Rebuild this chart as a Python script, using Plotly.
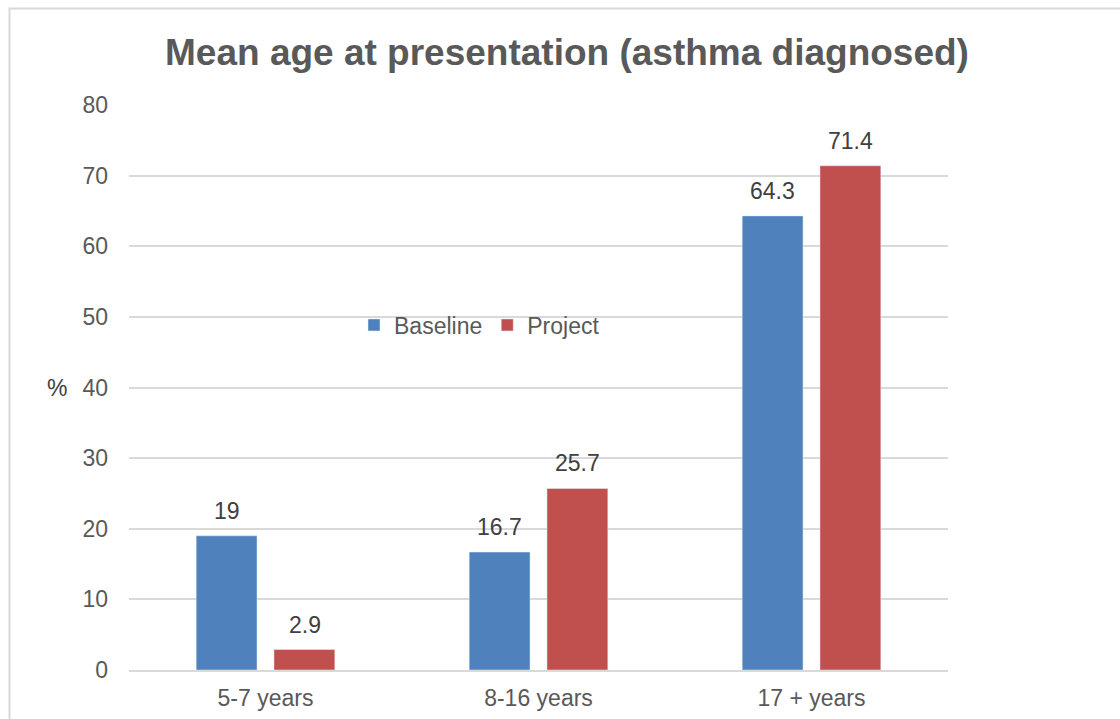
import plotly.graph_objects as go

categories = ["5-7 years", "8-16 years", "17 + years"]
baseline = [19, 16.7, 64.3]
project = [2.9, 25.7, 71.4]
y_ticks = [0, 10, 20, 30, 40, 50, 60, 70, 80]

FONT = "Liberation Sans, Arial, sans-serif"
W, H = 1120, 719
L, R, T, B = 129, 172, 105, 49
pw, ph = W - L - R, H - T - B
LABEL = 23

fig = go.Figure()
fig.add_trace(go.Bar(name="Baseline", x=categories, y=baseline, marker_color="#4f81bd"))
fig.add_trace(go.Bar(name="Project", x=categories, y=project, marker_color="#c0504d"))


def px_x(p):
    return (p - L) / pw


def px_y(p):
    return (H - B - p) / ph


# value labels above each bar (offset to the left/right bar of each group)
annotations = []
for series, shift in ((baseline, -39), (project, 39)):
    for cat, v in zip(categories, series):
        annotations.append(dict(
            x=cat, y=v, xref="x", yref="y", text=f"{v:g}", showarrow=False,
            xshift=shift, yanchor="bottom", yshift=10,
            font=dict(size=LABEL, color="#404040", family=FONT)))
annotations.append(dict(text="%", xref="paper", yref="paper", x=px_x(69), y=px_y(388),
                        xanchor="right", yanchor="middle", showarrow=False,
                        font=dict(size=LABEL, color="#404040", family=FONT)))

fig.update_layout(
    width=W, height=H,
    margin=dict(l=L, r=R, t=T, b=B, autoexpand=False),
    paper_bgcolor="white", plot_bgcolor="white",
    font=dict(family=FONT, color="#595959", size=LABEL),
    barmode="group", bargap=0.43, bargroupgap=0.218,
    showlegend=True,
    title=dict(text="<b>Mean age at presentation (asthma diagnosed)</b>",
               x=567 / W, xanchor="center", y=1 - 52 / H, yanchor="middle",
               font=dict(size=37, color="#595959", family=FONT)),
    legend=dict(orientation="h", x=px_x(354), y=px_y(325), xanchor="left", yanchor="middle",
                font=dict(size=LABEL, color="#595959", family=FONT),
                bgcolor="rgba(0,0,0,0)", itemwidth=30, traceorder="normal"),
    xaxis=dict(showgrid=False, showline=True, linecolor="#d9d9d9", linewidth=2,
               automargin=False,
               ticks="", ticklabelstandoff=6, tickfont=dict(size=LABEL, color="#595959")),
    yaxis=dict(range=[0, 80], tickvals=y_ticks, showgrid=True, gridcolor="#d9d9d9",
               gridwidth=1.5, zeroline=False, showline=False, ticks="",
               automargin=False, ticklabelstandoff=20,
               tickfont=dict(size=LABEL, color="#595959")),
    annotations=annotations,
    shapes=[dict(type="path", xref="paper", yref="paper",
                 path=f"M {px_x(9.5)} {px_y(760)} L {px_x(9.5)} {px_y(8.5)} L {px_x(1130)} {px_y(8.5)}",
                 line=dict(color="#d9d9d9", width=2))],
)

fig.write_html("out.html")
